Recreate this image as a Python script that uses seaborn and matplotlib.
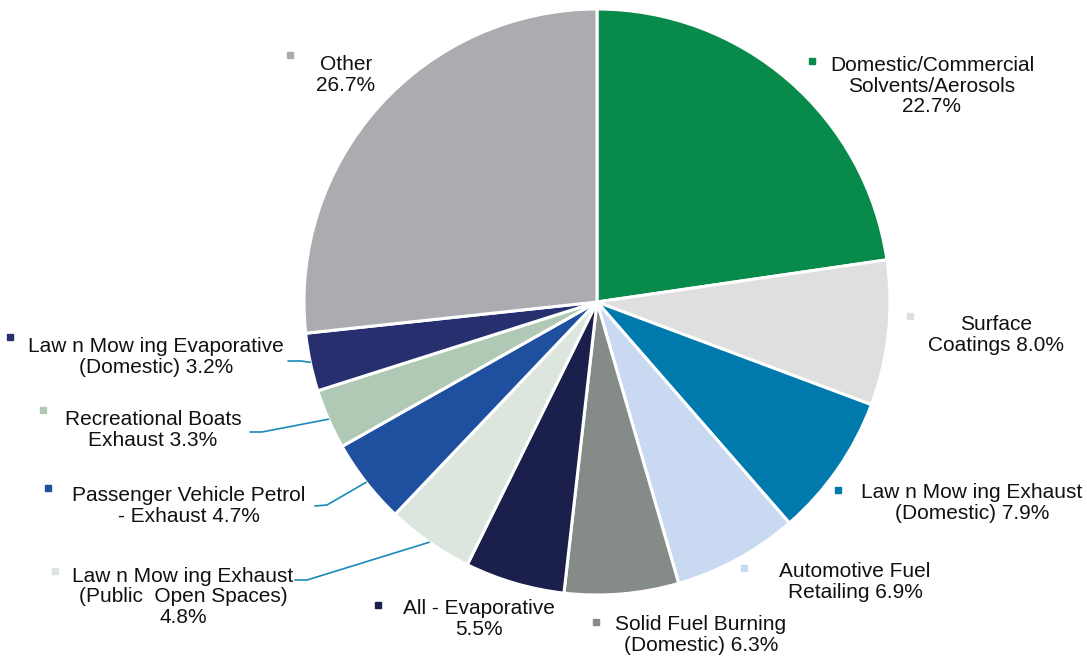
import matplotlib
matplotlib.use("Agg")
import matplotlib.pyplot as plt
import seaborn as sns
import numpy as np

sns.set_theme(style="white")
plt.rcParams['font.family'] = ['Liberation Sans', 'DejaVu Sans']

categories = [
    "Domestic/Commercial\nSolvents/Aerosols",
    "Surface\nCoatings",
    "Law n Mow ing Exhaust\n(Domestic)",
    "Automotive Fuel\nRetailing",
    "Solid Fuel Burning\n(Domestic)",
    "All - Evaporative",
    "Law n Mow ing Exhaust\n(Public  Open Spaces)",
    "Passenger Vehicle Petrol\n- Exhaust",
    "Recreational Boats\nExhaust",
    "Law n Mow ing Evaporative\n(Domestic)",
    "Other",
]
values = [22.7, 8.0, 7.9, 6.9, 6.3, 5.5, 4.8, 4.7, 3.3, 3.2, 26.7]
colors = ["#078A4A", "#DEDFDE", "#0079AD", "#C9D9F2", "#858C87", "#1B1F4B",
          "#DCE6DE", "#1F50A0", "#B0C9B4", "#272F6E", "#ABACAF"]
# whether the percentage goes on a new line
pct_newline = [True, False, False, False, False, True, True, False, False, False, True]

W, H = 1087, 664
cx, cy, R = 597, 302, 293

fig = plt.figure(figsize=(W / 100, H / 100), dpi=100)
ax = fig.add_axes([(cx - R) / W, (H - cy - R) / H, 2 * R / W, 2 * R / H])

wedges, _ = ax.pie(values, colors=sns.color_palette(colors), startangle=90,
                   counterclock=False, radius=1,
                   wedgeprops=dict(edgecolor="white", linewidth=2.2))
ax.set_xlim(-1, 1)
ax.set_ylim(-1, 1)
ax.axis("off")

def px2d(px, py):
    return (px - cx) / R, (cy - py) / R

# label layout (pixel centres), marker positions, leader elbows
label_pos = [(932, 86), (996, 335), (972, 503), (855, 582), (701, 635),
             (479, 619), (183, 597), (189, 506), (153, 430), (156, 357), (346, 75)]
marker_pos = [(812, 61), (910, 316), (838, 490), (744, 568), (596, 622),
              (378, 605), (55, 571), (48, 488), (43, 410), (10, 337), (290, 55)]
leaders = {6: [(295, 580), (307, 580)], 7: [(315, 506), (327, 505)],
           8: [(250, 432), (262, 432)], 9: [(288, 361), (301, 361)]}

cum = np.concatenate([[0], np.cumsum(values)])
for i, (cat, v) in enumerate(zip(categories, values)):
    sep = "\n" if pct_newline[i] else " "
    txt = f"{cat}{sep}{v:.1f}%"
    tx, ty = px2d(*label_pos[i])
    ax.text(tx, ty, txt, ha="center", va="center", multialignment="center",
            fontsize=15, color="#111111", linespacing=1.13)
    mx, my = px2d(*marker_pos[i])
    ax.plot([mx], [my], marker="s", markersize=4.2, color=colors[i],
            clip_on=False, linestyle="none")
    if i in leaders:
        mid = (cum[i] + cum[i + 1]) / 2 / 100.0
        ang = np.deg2rad(90 - mid * 360)
        ex, ey = np.cos(ang), np.sin(ang)
        pts = [px2d(*p) for p in leaders[i]] + [(ex, ey)]
        xs, ys = zip(*pts)
        ax.plot(xs, ys, color="#1A8AB8", linewidth=1.2, clip_on=False)

fig.savefig("out.png", dpi=100, facecolor="white")
